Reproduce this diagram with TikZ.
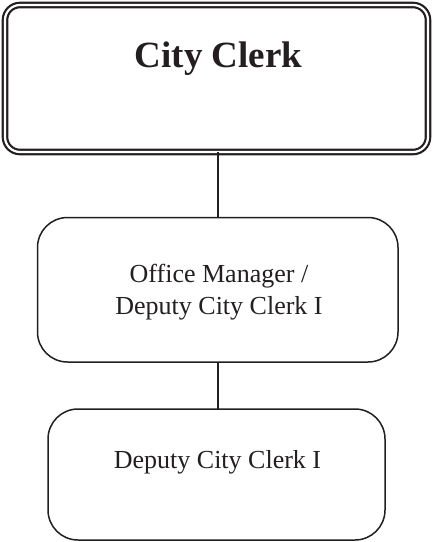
\documentclass[tikz,border=0pt]{standalone}
\usepackage{fontspec}
\setmainfont{Liberation Serif}
\definecolor{inkc}{HTML}{231F20}
\begin{document}
\begin{tikzpicture}[x=1pt,y=-1pt,
  boxbase/.style={draw=inkc, inner sep=0pt, outer sep=0pt, fill=white},
  topbox/.style={boxbase, line width=2.2pt, double=white, double distance=2.2pt, rounded corners=15pt},
  subbox/.style={boxbase, line width=1.5pt, rounded corners=30pt},
  conn/.style={draw=inkc, line width=1.5pt},
  lbl/.style={text=inkc, inner sep=0pt, anchor=base, align=center}]
\useasboundingbox (0,0) rectangle (433,542);
\node[topbox, minimum width=423pt, minimum height=147pt] (cc) at (216.5,78.5) {};
\node[subbox, minimum width=360.5pt, minimum height=144.5pt] (om) at (217.75,289.75) {};
\node[subbox, minimum width=337pt, minimum height=131pt] (dc) at (216.5,474.5) {};
\draw[conn] (om.north |- cc.south) -- (om.north);
\draw[conn] (om.south) -- (om.south |- dc.north);
\node[lbl, font=\fontsize{37}{44}\selectfont\bfseries] (cct) at (218.5,67) {City Clerk};
\node[lbl, font=\fontsize{26}{32}\selectfont] (omt) at (219,314) {Office Manager /\\Deputy City Clerk I};
\node[lbl, font=\fontsize{26}{32}\selectfont] (dct) at (217.5,468) {Deputy City Clerk I};
\end{tikzpicture}
\end{document}
